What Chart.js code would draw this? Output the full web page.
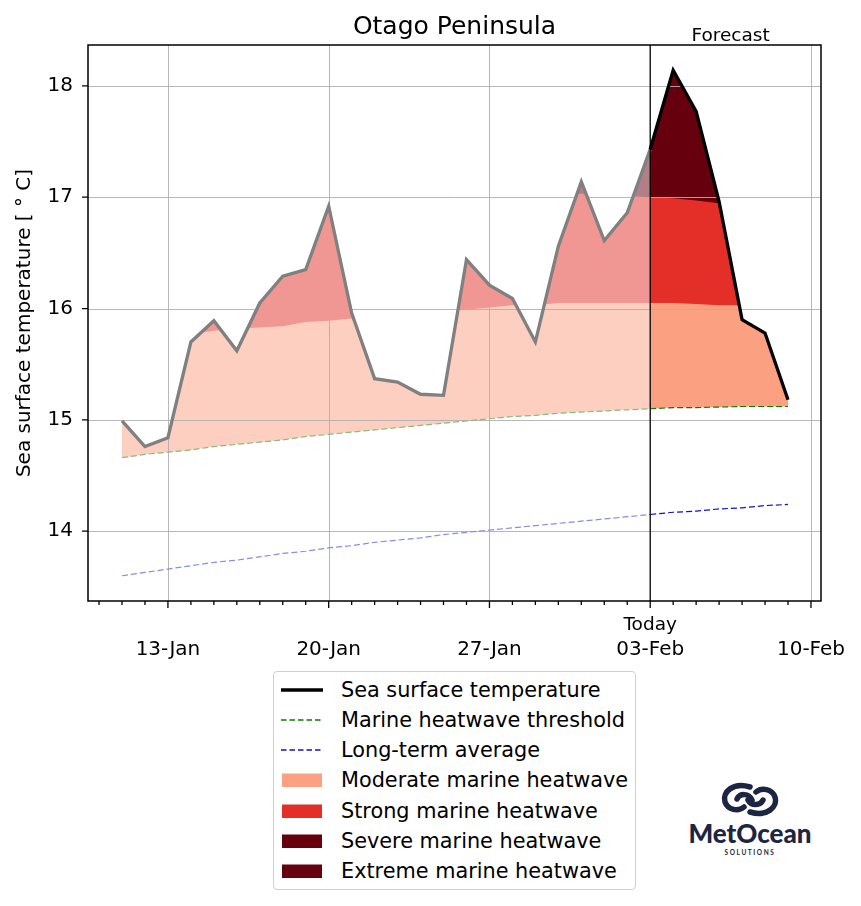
<!DOCTYPE html>
<html>
<head>
<meta charset="utf-8">
<title>Otago Peninsula</title>
<script src="https://cdn.jsdelivr.net/npm/chart.js@4.4.1/dist/chart.umd.min.js"></script>
<style>
  body { margin: 0; background: #fff; font-family: "DejaVu Sans", sans-serif; }
  #wrap { position: relative; width: 861px; height: 906px; overflow: hidden; }
  #c { position: absolute; left: 0; top: 0; }
  #legend { position: absolute; left: 273px; top: 671px; width: 361px; height: 217px;
            border: 1px solid #d0d0d0; border-radius: 4px; background: #fff; }
  .row { position: absolute; left: 0; width: 100%; height: 30px; }
  .row svg { position: absolute; left: 7px; top: 7px; }
  .row span { position: absolute; left: 67px; top: 0; line-height: 30px; font-size: 20.8px; color: #000; white-space: nowrap; }
  #logo { position: absolute; left: 680px; top: 775px; }
</style>
</head>
<body>
<div id="wrap">
  <canvas id="c" width="861" height="670"></canvas>
  <div id="legend"></div>
  <svg id="logo" width="140" height="90" viewBox="0 0 140 90">
    <g fill="none" stroke="#1c2541" stroke-width="5.5" stroke-linecap="round">
      <path d="M70 12 C 53 7, 42 17, 45 27 C 48 35, 58 37, 64 32"/>
      <path d="M57 24 C 60 18, 69 18, 72 25"/>
      <path d="M70 37 C 87 42, 98 32, 95 22 C 92 14, 82 12, 76 17"/>
      <path d="M83 25 C 80 31, 71 31, 68 25"/>
    </g>
    <text x="70" y="68" text-anchor="middle" font-family="Lato" font-weight="900" font-size="26" fill="#1c2541">MetOcean</text>
    <text x="70" y="80" text-anchor="middle" font-family="Lato" font-weight="700" font-size="6.5" letter-spacing="1.6" fill="#1c2541">SOLUTIONS</text>
  </svg>
</div>
<script>
// day of year: 11 = 11-Jan, 32 = 01-Feb
const days = [11, 12, 13, 14, 15, 16, 17, 18, 19, 20, 21, 22, 23, 24, 25,
              26, 27, 28, 29, 30, 31, 32, 33, 34, 35, 36, 37, 38, 39, 40];
const sst = [14.99, 14.76, 14.84, 15.70, 15.89, 15.62, 16.05, 16.29, 16.35, 16.92,
             15.96, 15.37, 15.34, 15.23, 15.22, 16.44, 16.21, 16.09, 15.70, 16.56,
             17.14, 16.61, 16.86, 17.43, 18.14, 17.77, 16.96, 15.90, 15.78, 15.18];
const threshold = [14.66, 14.69, 14.71, 14.73, 14.76, 14.78, 14.80, 14.82, 14.85, 14.87,
                   14.89, 14.91, 14.93, 14.95, 14.97, 14.99, 15.01, 15.03, 15.04, 15.06,
                   15.07, 15.08, 15.09, 15.10, 15.11, 15.11, 15.115, 15.12, 15.12, 15.12];
const climatology = [13.60, 13.63, 13.66, 13.69, 13.72, 13.74, 13.77, 13.80, 13.82, 13.85,
                     13.87, 13.90, 13.92, 13.94, 13.97, 13.99, 14.01, 14.03, 14.05, 14.07,
                     14.09, 14.11, 14.13, 14.15, 14.17, 14.18, 14.20, 14.21, 14.23, 14.24];
const todayDay = 34;
const tickDays = [13, 20, 27, 34, 41];
const tickLabels = ['13-Jan', '20-Jan', '27-Jan', '03-Feb', '10-Feb'];
const categories = ['Moderate marine heatwave', 'Strong marine heatwave',
                    'Severe marine heatwave', 'Extreme marine heatwave'];

const FONT = 'DejaVu Sans';
const forecastColours = ['#fca082', '#e32f27', '#67000d', '#67000d'];
const pastColours = ['#fdcfc0', '#f19793', '#b37f86', '#b37f86'];

const pts = (vals, keep) => days.map((d, i) => ({ x: d, y: keep(d) ? vals[i] : null }));
const all = () => true;
const isPast = d => d <= todayDay;
const isForecast = d => d >= todayDay;

// lower edge of category k = threshold + k * (threshold - climatology)
const boundary = k => threshold.map((t, i) => t + k * (t - climatology[i]));

const helper = { borderWidth: 0, borderColor: 'transparent', pointRadius: 0 };
const splitColour = (past, fc) => c => c.p0.parsed.x >= todayDay ? fc : past;

const datasets = [
  { label: 'Sea surface temperature', data: pts(sst, all), borderWidth: 3.3, pointRadius: 0, fill: false,
    borderColor: '#000', segment: { borderColor: splitColour('#808080', '#000') } },
  { label: 'Marine heatwave threshold', data: pts(threshold, all), borderWidth: 1.2, borderDash: [6, 3],
    pointRadius: 0, fill: false, borderColor: '#008000', segment: { borderColor: splitColour('#7fbf7f', '#008000') } },
  { label: 'Long-term average', data: pts(climatology, all), borderWidth: 1.2, borderDash: [6, 3],
    pointRadius: 0, fill: false, borderColor: '#1010d0', segment: { borderColor: splitColour('#8a8ae8', '#1010d0') } },
  // white cover above the sea surface temperature
  Object.assign({ data: pts(sst, all), fill: 'end', backgroundColor: '#fff' }, helper)
];

// category bands, each filled from its lower edge up; painted moderate first, extreme last
for (let k = categories.length - 1; k >= 0; k--) {
  const edge = boundary(k);
  datasets.push(Object.assign({ data: pts(edge, isPast), fill: 'end', backgroundColor: pastColours[k] }, helper));
  datasets.push(Object.assign({ data: pts(edge, isForecast), fill: 'end', backgroundColor: forecastColours[k] }, helper));
}

const decor = {
  id: 'decor',
  beforeDatasetsDraw(chart) {
    const { ctx, chartArea: a, scales: { x, y } } = chart;
    ctx.save();
    ctx.strokeStyle = '#b0b0b0';
    ctx.lineWidth = 0.9;
    ctx.beginPath();
    tickDays.forEach(d => {
      if (d === todayDay) return;
      const px = Math.round(x.getPixelForValue(d)) + 0.5;
      ctx.moveTo(px, a.top); ctx.lineTo(px, a.bottom);
    });
    y.ticks.forEach(t => {
      const py = Math.round(y.getPixelForValue(t.value)) + 0.5;
      ctx.moveTo(a.left, py); ctx.lineTo(a.right, py);
    });
    ctx.stroke();
    ctx.restore();
  },
  afterDatasetsDraw(chart) {
    const { ctx, chartArea: a, scales: { x, y } } = chart;
    ctx.save();
    ctx.strokeStyle = '#000';
    // today line
    ctx.lineWidth = 1.3;
    const tx = x.getPixelForValue(todayDay);
    ctx.beginPath(); ctx.moveTo(tx, a.top); ctx.lineTo(tx, a.bottom); ctx.stroke();
    // frame
    ctx.lineWidth = 1.5;
    ctx.strokeRect(a.left, a.top, a.right - a.left, a.bottom - a.top);
    // tick marks: every day minor, weekly major
    ctx.lineWidth = 1.3;
    ctx.beginPath();
    for (let d = Math.ceil(x.min); d <= x.max; d++) {
      const px = x.getPixelForValue(d);
      const len = tickDays.includes(d) ? 7 : 4;
      ctx.moveTo(px, a.bottom); ctx.lineTo(px, a.bottom + len);
    }
    y.ticks.forEach(t => {
      const py = y.getPixelForValue(t.value);
      ctx.moveTo(a.left, py); ctx.lineTo(a.left - 6, py);
    });
    ctx.stroke();
    // texts
    ctx.fillStyle = '#000';
    ctx.textAlign = 'center';
    ctx.textBaseline = 'alphabetic';
    ctx.font = '20px "' + FONT + '"';
    tickDays.forEach((d, i) => ctx.fillText(tickLabels[i], x.getPixelForValue(d), a.bottom + 54));
    ctx.font = '25px "' + FONT + '"';
    ctx.fillText('Otago Peninsula', (a.left + a.right) / 2, a.top - 11);
    ctx.font = '18.5px "' + FONT + '"';
    ctx.fillText('Forecast', x.getPixelForValue((todayDay + tickDays[4]) / 2), a.top - 4);
    ctx.fillText('Today', tx, a.bottom + 29);
    ctx.restore();
  }
};

new Chart(document.getElementById('c'), {
  type: 'line',
  data: { datasets },
  plugins: [decor],
  options: {
    responsive: false,
    animation: false,
    events: [],
    layout: { padding: { left: 0, right: 40, top: 45, bottom: 9 } },
    elements: { line: { tension: 0 }, point: { radius: 0 } },
    plugins: {
      legend: { display: false },
      tooltip: { enabled: false },
      title: { display: false },
      filler: { drawTime: 'beforeDatasetsDraw' }
    },
    scales: {
      x: {
        type: 'linear', min: 9.5195, max: 41.437,
        grid: { display: false, drawTicks: false }, border: { display: false },
        ticks: { display: false, stepSize: 1 },
        afterFit: s => { s.height = 60; s.paddingLeft = 0; s.paddingRight = 0; }
      },
      y: {
        type: 'linear', min: 13.373, max: 18.367,
        grid: { display: false, drawTicks: false }, border: { display: false },
        ticks: { stepSize: 1, includeBounds: false, padding: 15, color: '#000', font: { family: FONT, size: 20 } },
        title: { display: true, text: 'Sea surface temperature [ ° C]', color: '#000',
                 font: { family: FONT, size: 20 }, padding: { top: 13, bottom: 0 } },
        afterFit: s => { s.width = 88; }
      }
    }
  }
});

// legend
const legendItems = [
  { text: 'Sea surface temperature', line: '#000', width: 3.3 },
  { text: 'Marine heatwave threshold', line: '#008000', width: 1.5, dash: '5.5 3' },
  { text: 'Long-term average', line: '#1010d0', width: 1.5, dash: '5.5 3' }
].concat(categories.map((c, k) => ({ text: c, patch: forecastColours[k] })));

const legend = document.getElementById('legend');
legendItems.forEach((item, i) => {
  const row = document.createElement('div');
  row.className = 'row';
  row.style.top = (3 + i * 30.15) + 'px';
  let sw;
  if (item.patch) {
    sw = '<svg width="42" height="16"><rect x="1" y="1.5" width="40" height="13.5" fill="' + item.patch + '"/></svg>';
  } else {
    sw = '<svg width="42" height="16"><line x1="0" y1="8" x2="42" y2="8" stroke="' + item.line +
         '" stroke-width="' + item.width + '"' + (item.dash ? ' stroke-dasharray="' + item.dash + '"' : '') + '/></svg>';
  }
  row.innerHTML = sw + '<span>' + item.text + '</span>';
  legend.appendChild(row);
});
</script>
</body>
</html>
